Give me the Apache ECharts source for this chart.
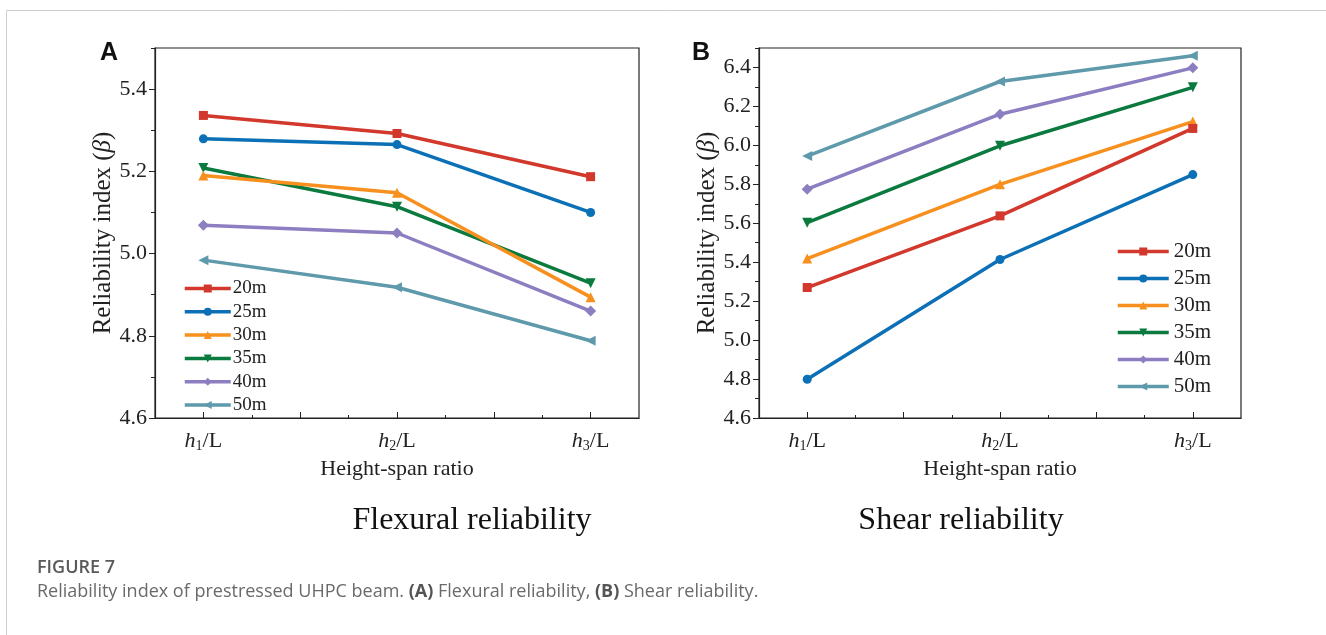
<!DOCTYPE html>
<html>
<head>
<meta charset="utf-8">
<script src="https://cdn.jsdelivr.net/npm/echarts@6/dist/echarts.min.js"></script>
<style>
  html, body { margin: 0; padding: 0; background: #fff; }
  #main { width: 1326px; height: 635px; }
</style>
</head>
<body>
<div id="main"></div>
<script>
// span lengths (legend) and x positions of h1/L, h2/L, h3/L
var spanNames = ['20m', '25m', '30m', '35m', '40m', '50m'];
var ratioPos = [1, 2, 3];
var ratioSub = ['1', '2', '3'];

// (A) flexural reliability index
var flex20 = [5.336, 5.292, 5.187];
var flex25 = [5.279, 5.265, 5.100];
var flex30 = [5.190, 5.148, 4.894];
var flex35 = [5.208, 5.114, 4.928];
var flex40 = [5.069, 5.050, 4.860];
var flex50 = [4.984, 4.918, 4.788];

// (B) shear reliability index
var shear20 = [5.270, 5.638, 6.087];
var shear25 = [4.799, 5.414, 5.850];
var shear30 = [5.419, 5.800, 6.122];
var shear35 = [5.603, 5.998, 6.298];
var shear40 = [5.775, 6.160, 6.398];
var shear50 = [5.945, 6.328, 6.460];

var yTicksA = [4.6, 4.8, 5.0, 5.2, 5.4];
var yMinorA = [4.7, 4.9, 5.1, 5.3, 5.5];
var yTicksB = [4.6, 4.8, 5.0, 5.2, 5.4, 5.6, 5.8, 6.0, 6.2, 6.4];
var yMinorB = [4.7, 4.9, 5.1, 5.3, 5.5, 5.7, 5.9, 6.1, 6.3, 6.5];

var colors = ['#d2382c', '#0b70b5', '#f7901e', '#0a7a3e', '#8c7ec0', '#5e9aab'];
var symbols = ['rect', 'circle', 'triangle', 'triangle', 'diamond', 'triangle'];
var symRot = [0, 0, 0, 180, 0, 90];
var symSize = [9, 9, 10, 10, 11, 10];

var serif = '"Liberation Serif", "DejaVu Serif", serif';
var ink = '#222';

var myChart = echarts.init(document.getElementById('main'));

function pairs(vals) {
    return vals.map(function (v, i) { return [ratioPos[i], v]; });
}

function xAxes(grid) {
    return [
        {
            gridIndex: grid, type: 'value', min: 0.75, max: 3.25, position: 'bottom',
            axisLine: { show: true, lineStyle: { color: ink, width: 1.2 } },
            axisTick: { show: true, inside: true, length: 6, customValues: [1, 1.5, 2, 2.5, 3], lineStyle: { color: ink } },
            axisLabel: {
                customValues: ratioPos, margin: 12,
                formatter: function (v) {
                    return '{i|h}{s|' + ratioSub[Math.round(v) - 1] + '}{n|/L}';
                },
                rich: {
                    i: { fontFamily: serif, fontStyle: 'italic', fontSize: 22, color: ink, lineHeight: 22 },
                    s: { fontFamily: serif, fontSize: 14, color: ink, lineHeight: 14, padding: [10, 0, 0, 0] },
                    n: { fontFamily: serif, fontSize: 22, color: ink, lineHeight: 22 }
                }
            },
            splitLine: { show: false },
            name: 'Height-span ratio', nameLocation: 'middle', nameGap: 37,
            nameTextStyle: { fontFamily: serif, fontSize: 22, color: ink }
        },
        {
            gridIndex: grid, type: 'value', min: 0.75, max: 3.25, position: 'bottom',
            axisLine: { show: false },
            axisTick: { show: true, inside: true, length: 3, customValues: [1.25, 1.75, 2.25, 2.75], lineStyle: { color: ink } },
            axisLabel: { show: false },
            splitLine: { show: false }
        }
    ];
}

function yAxes(grid, min, max, ticks, minor) {
    return [
        {
            gridIndex: grid, type: 'value', min: min, max: max, position: 'left',
            axisLine: { show: true, lineStyle: { color: ink, width: 1.2 } },
            axisTick: { show: true, length: 6, customValues: ticks, lineStyle: { color: ink } },
            axisLabel: {
                customValues: ticks, margin: 8,
                fontFamily: serif, fontSize: 22, color: ink,
                formatter: function (v) { return v.toFixed(1); }
            },
            splitLine: { show: false },
            name: '{n|Reliability index (}{b|β}{n|)}',
            nameLocation: 'middle', nameRotate: 90, nameGap: 37,
            nameTextStyle: {
                rich: {
                    n: { fontFamily: serif, fontSize: 25, color: ink },
                    b: { fontFamily: serif, fontSize: 25, fontStyle: 'italic', color: ink }
                }
            }
        },
        {
            gridIndex: grid, type: 'value', min: min, max: max, position: 'left',
            axisLine: { show: false },
            axisTick: { show: true, length: 4, customValues: minor, lineStyle: { color: ink } },
            axisLabel: { show: false },
            splitLine: { show: false }
        }
    ];
}

function seriesFor(grid, sets) {
    return sets.map(function (vals, k) {
        return {
            name: spanNames[k], type: 'line',
            xAxisIndex: grid * 2, yAxisIndex: grid * 2,
            data: pairs(vals),
            symbol: symbols[k], symbolRotate: symRot[k], symbolSize: symSize[k],
            showAllSymbol: true,
            lineStyle: { width: 3.5, color: colors[k] },
            itemStyle: { color: colors[k] },
            z: 10 - k
        };
    });
}

option = {
    animation: false,
    backgroundColor: '#fff',
    grid: [
        { left: 155, top: 48, width: 484, height: 370, show: true, borderColor: ink, borderWidth: 1.2, backgroundColor: 'transparent' },
        { left: 759, top: 48, width: 482, height: 370, show: true, borderColor: ink, borderWidth: 1.2, backgroundColor: 'transparent' }
    ],
    xAxis: xAxes(0).concat(xAxes(1)),
    yAxis: yAxes(0, 4.6, 5.5, yTicksA, yMinorA).concat(yAxes(1, 4.6, 6.5, yTicksB, yMinorB)),
    legend: [
        {
            orient: 'vertical', left: 178, top: 274,
            itemWidth: 46, itemHeight: 10, itemGap: 4.3,
            lineStyle: { width: 3.5 },
            data: spanNames,
            textStyle: { fontFamily: serif, fontSize: 19, color: ink, padding: [0, 0, 0, -3] }
        },
        {
            orient: 'vertical', left: 1111, top: 236,
            itemWidth: 51, itemHeight: 10, itemGap: 6,
            lineStyle: { width: 3.5 },
            data: spanNames,
            textStyle: { fontFamily: serif, fontSize: 21, color: ink }
        }
    ],
    graphic: [
        { type: 'rect', left: 4, top: 8, shape: { width: 1400, height: 700 }, style: { fill: 'none', stroke: '#cfcfcf', lineWidth: 1 }, z: -1 },
        { type: 'text', left: 100, top: 41, style: { text: 'A', font: 'bold 25px "Liberation Sans", Arial, sans-serif', fill: '#111' } },
        { type: 'text', left: 692, top: 41, style: { text: 'B', font: 'bold 25px "Liberation Sans", Arial, sans-serif', fill: '#111' } },
        { type: 'text', x: 472, y: 521, style: { text: 'Flexural reliability', font: '32px ' + serif, fill: '#111', align: 'center', verticalAlign: 'middle' } },
        { type: 'text', x: 961, y: 521, style: { text: 'Shear reliability', font: '32px ' + serif, fill: '#111', align: 'center', verticalAlign: 'middle' } },
        { type: 'text', x: 37, y: 568, style: { text: 'FIGURE 7', font: '600 18px "Open Sans", sans-serif', fill: '#5a5a5a', verticalAlign: 'middle' } },
        {
            type: 'text', x: 37, y: 592,
            style: {
                text: '{n|Reliability index of prestressed UHPC beam. }{b|(A)}{n| Flexural reliability, }{b|(B)}{n| Shear reliability.}',
                verticalAlign: 'middle',
                rich: {
                    n: { font: '18px "Open Sans", sans-serif', fill: '#6a6a6a' },
                    b: { font: 'bold 18px "Open Sans", sans-serif', fill: '#555' }
                }
            }
        }
    ],
    series: seriesFor(0, [flex20, flex25, flex30, flex35, flex40, flex50])
        .concat(seriesFor(1, [shear20, shear25, shear30, shear35, shear40, shear50]))
};
myChart.setOption(option);
</script>
</body>
</html>
